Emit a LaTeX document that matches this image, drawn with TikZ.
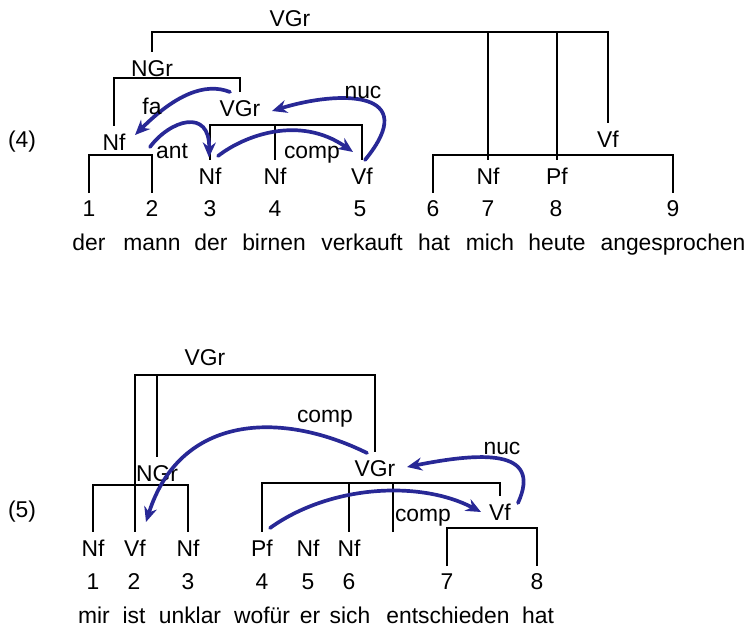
\documentclass[tikz,border=0pt]{standalone}
\usepackage{fontspec}
\setmainfont{Liberation Sans}
\usepackage{tikz}
\usetikzlibrary{calc,arrows.meta}
\definecolor{relblue}{RGB}{40,40,150}
\tikzset{
	cat/.style={inner sep=0pt, outer sep=0.16cm, text height=9.3pt, text depth=0pt},
	num/.style={inner sep=0pt, outer sep=0.16cm},
	word/.style={inner sep=0pt, anchor=base},
	lab/.style={inner sep=0pt},
	tree/.style={line width=0.95pt},
	rel/.style={draw=relblue, line width=2.1pt, line cap=round, -{Stealth[length=0.3cm,width=0.26cm]}}
}

\begin{document}
\begin{tikzpicture}[font=\fontsize{13}{15}\selectfont]
		%%%%% START %%%%%
		\useasboundingbox (0,0) rectangle (14.92,12.6);
		
		%%%%% (4) %%%%%
		\node[lab] (ex4) at (0.44,9.76) {(4)};
		
		\node[cat] (vgrA) at (5.80,12.24) {VGr};
		\node[cat] (ngrA) at (3.04,11.24) {NGr};
		\node[cat] (nfA) at (2.28,9.76) {Nf};
		\node[cat] (vgrB) at (4.80,10.44) {VGr};
		\node[cat] (nfC) at (4.20,9.08) {Nf};
		\node[cat] (nfD) at (5.50,9.08) {Nf};
		\node[cat] (vfE) at (7.24,9.08) {Vf};
		\node[cat] (vfF) at (12.16,9.82) {Vf};
		\node[cat] (nfG) at (9.76,9.08) {Nf};
		\node[cat] (pfH) at (11.14,9.08) {Pf};
		
		\node[num] (n41) at (1.78,8.42) {1};
		\node[num] (n42) at (3.04,8.42) {2};
		\node[num] (n43) at (4.20,8.42) {3};
		\node[num] (n44) at (5.50,8.42) {4};
		\node[num] (n45) at (7.20,8.42) {5};
		\node[num] (n46) at (8.66,8.42) {6};
		\node[num] (n47) at (9.76,8.42) {7};
		\node[num] (n48) at (11.12,8.42) {8};
		\node[num] (n49) at (13.46,8.42) {9};
		
		\node[word] (w41) at (1.78,7.60) {der};
		\node[word] (w42) at (3.04,7.60) {mann};
		\node[word] (w43) at (4.22,7.60) {der};
		\node[word] (w44) at (5.48,7.60) {birnen};
		\node[word] (w45) at (7.24,7.60) {verkauft};
		\node[word] (w46) at (8.68,7.60) {hat};
		\node[word] (w47) at (9.80,7.60) {mich};
		\node[word] (w48) at (11.14,7.60) {heute};
		\node[word] (w49) at (13.46,7.60) {angesprochen};
		
		\coordinate (barA) at (5.80,11.96);
		\draw[tree] (ngrA.north) |- (barA) -| (vfF.north);
		\draw[tree] (nfG.north) -- (nfG.north |- barA);
		\draw[tree] (pfH.north) -- (pfH.north |- barA);
		
		\coordinate (barB) at (3.04,11.04);
		\draw[tree] (nfA.north) |- (barB) -| (vgrB.north);
		
		\coordinate (barC) at (2.28,9.50);
		\draw[tree] (n41.north) |- (barC) -| (n42.north);
		
		\coordinate (barD) at (5.50,10.10);
		\draw[tree] (nfC.north) |- (barD) -| (vfE.north);
		\draw[tree] (nfD.north) -- (nfD.north |- barD);
		
		\coordinate (barE) at (11.00,9.50);
		\draw[tree] (n46.north) |- (barE) -| (n49.north);
		
		\draw[rel] ($(vgrB)+(-0.2,0.32)$) .. controls +(-0.5,0.2) and +(0.8,0.8) .. ($(nfA)+(0.42,0.14)$);
		\draw[rel] ($(nfA)+(0.72,-0.10)$) .. controls +(0.40,0.54) and +(0.02,1.00) .. ($(nfC)+(-0.02,0.37)$);
		\draw[rel] ($(nfC)+(0.16,0.40)$) .. controls +(0.54,0.42) and +(-1.06,0.74) .. ($(vfE)+(-0.18,0.48)$);
		\draw[rel] ($(vfE)+(0.06,0.32)$) .. controls +(1.15,1.40) and +(1.36,0.42) .. ($(vgrB)+(0.64,-0.06)$);
		
		\node[lab] (faA) at (3.04,10.48) {fa};
		\node[lab] (antA) at (3.44,9.58) {ant};
		\node[lab] (compA) at (6.24,9.50) {comp};
		\node[lab] (nucA) at (7.26,10.76) {nuc};
		
		%%%%% (5) %%%%%
		\node[lab] (ex5) at (0.44,2.36) {(5)};
		
		\node[cat] (vgrP) at (4.10,5.46) {VGr};
		\node[cat] (ngrQ) at (3.14,3.14) {NGr};
		\node[cat] (vgrR) at (7.50,3.24) {VGr};
		\node[cat] (nfS) at (1.86,1.64) {Nf};
		\node[cat] (vfT) at (2.70,1.64) {Vf};
		\node[cat] (nfU) at (3.76,1.64) {Nf};
		\node[cat] (pfV) at (5.24,1.64) {Pf};
		\node[cat] (nfW) at (6.16,1.64) {Nf};
		\node[cat] (nfX) at (6.98,1.64) {Nf};
		\node[cat] (vfY) at (10.00,2.36) {Vf};
		
		\node[num] (n51) at (1.86,0.96) {1};
		\node[num] (n52) at (2.68,0.96) {2};
		\node[num] (n53) at (3.76,0.96) {3};
		\node[num] (n54) at (5.24,0.96) {4};
		\node[num] (n55) at (6.16,0.96) {5};
		\node[num] (n56) at (6.98,0.96) {6};
		\node[num] (n57) at (8.94,0.96) {7};
		\node[num] (n58) at (10.74,0.96) {8};
		
		\node[word] (w51) at (1.88,0.14) {mir};
		\node[word] (w52) at (2.68,0.14) {ist};
		\node[word] (w53) at (3.80,0.14) {unklar};
		\node[word] (w54) at (5.24,0.14) {wofür};
		\node[word] (w55) at (6.20,0.14) {er};
		\node[word] (w56) at (7.00,0.14) {sich};
		\node[word] (w57) at (8.96,0.14) {entschieden};
		\node[word] (w58) at (10.76,0.14) {hat};
		
		\coordinate (barP) at (4.10,5.10);
		\draw[tree] (vfT.north) |- (barP) -| (vgrR.north);
		\draw[tree] (ngrQ.north) -- (ngrQ.north |- barP);
		
		\coordinate (barQ) at (3.14,2.90);
		\draw[tree] (nfS.north) |- (barQ) -| (nfU.north);
		
		\coordinate (barR) at (7.50,2.94);
		\draw[tree] (pfV.north) |- (barR) -| (vfY.north);
		\draw[tree] (nfX.north) -- (nfX.north |- barR);
		\coordinate (compL) at (7.86,1.96);
		\draw[tree] (compL) -- (compL |- barR);
		
		\coordinate (barY) at (9.85,2.04);
		\draw[tree] (n57.north) |- (barY) -| (n58.north);
		
		\draw[rel] ($(vgrR)+(-0.16,0.30)$) .. controls +(-1.74,0.86) and +(0.68,2.14) .. ($(vfT)+(0.22,0.52)$);
		\draw[rel] ($(pfV)+(0.16,0.40)$) .. controls +(1.20,0.86) and +(-1.22,0.64) .. ($(vfY)+(-0.38,0)$);
		\draw[rel] ($(vfY)+(0.36,0.18)$) .. controls +(0.50,1.10) and +(1.46,0.29) .. ($(vgrR)+(0.64,0.02)$);
		
		\node[lab] (compB) at (6.50,4.22) {comp};
		\node[lab] (nucB) at (10.04,3.64) {nuc};
		\node[lab] (compC) at (8.46,2.24) {comp};
		%%%%% END %%%%%
	\end{tikzpicture}
\end{document}
